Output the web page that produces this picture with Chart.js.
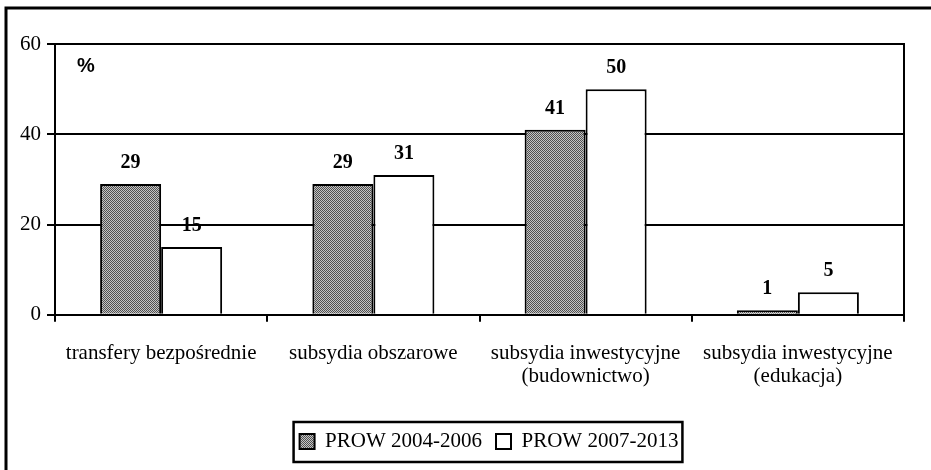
<!DOCTYPE html>
<html>
<head>
<meta charset="utf-8">
<script src="https://cdn.jsdelivr.net/npm/chart.js@4"></script>
<style>
  html, body { margin: 0; padding: 0; background: #fff; }
  #wrap { width: 931px; height: 470px; position: relative; }
</style>
</head>
<body>
<div id="wrap"><canvas id="chartCanvas"></canvas></div>
<script>
var categories = [
    "transfery bezpośrednie",
    "subsydia obszarowe",
    ["subsydia inwestycyjne", "(budownictwo)"],
    ["subsydia inwestycyjne", "(edukacja)"]
];
var seriesNames = ["PROW 2004-2006", "PROW 2007-2013"];
var prow2004 = [29, 29, 41, 1];
var prow2007 = [15, 31, 50, 5];
var yTicks = [0, 20, 40, 60];

// szary "kropkowany" wzór jak w oryginale
function makePattern() {
    var c = document.createElement("canvas");
    c.width = 2; c.height = 2;
    var g = c.getContext("2d");
    g.fillStyle = "#c4c4c4"; g.fillRect(0, 0, 2, 2);
    g.fillStyle = "#505050"; g.fillRect(0, 0, 1, 1); g.fillRect(1, 1, 1, 1);
    return g.createPattern(c, "repeat");
}
var grayFill = makePattern();
var serif = "'Liberation Serif', 'Times New Roman', serif";
var legendShift = 30;

var extras = {
    id: "extras",
    afterLayout: function (chart) {
        // legenda w oryginale jest przesunięta w prawo
        var lg = chart.legend;
        lg.left += legendShift;
        lg.right += legendShift;
        lg.legendHitBoxes.forEach(function (h) { h.left += legendShift; });
    },
    afterDatasetsDraw: function (chart) {
        var ctx = chart.ctx;
        ctx.save();
        ctx.fillStyle = "#000";
        ctx.font = "bold 20px " + serif;
        ctx.textAlign = "center";
        ctx.textBaseline = "bottom";
        chart.data.datasets.forEach(function (ds, i) {
            chart.getDatasetMeta(i).data.forEach(function (bar, j) {
                ctx.fillText(ds.data[j], bar.x, bar.y - 11);
            });
        });
        var a = chart.chartArea;
        ctx.font = "bold 20px 'Liberation Sans', Arial, sans-serif";
        ctx.textAlign = "left";
        ctx.textBaseline = "middle";
        ctx.fillText("%", a.left + 22, a.top + 22);
        // prawa krawędź obszaru wykresu
        ctx.strokeStyle = "#000";
        ctx.lineWidth = 2;
        ctx.beginPath();
        ctx.moveTo(a.right, a.top - 1);
        ctx.lineTo(a.right, a.bottom + 6);
        ctx.stroke();
        ctx.restore();
    },
    afterDraw: function (chart) {
        var ctx = chart.ctx;
        ctx.save();
        ctx.strokeStyle = "#000";
        ctx.lineWidth = 3;
        ctx.beginPath();
        ctx.moveTo(6, 470);
        ctx.lineTo(6, 8);
        ctx.lineTo(931, 8);
        ctx.stroke();
        // ramka legendy
        var boxes = chart.legend.legendHitBoxes;
        if (boxes && boxes.length) {
            var l = Infinity, r = -Infinity, t = Infinity, b = -Infinity;
            boxes.forEach(function (h) {
                l = Math.min(l, h.left); r = Math.max(r, h.left + h.width);
                t = Math.min(t, h.top); b = Math.max(b, h.top + h.height);
            });
            ctx.lineWidth = 2.5;
            ctx.strokeRect(l - 6, t - 9, r - l + 10, b - t + 19);
        }
        ctx.restore();
    }
};

new Chart(document.getElementById("chartCanvas").getContext("2d"), {
    type: "bar",
    data: {
        labels: categories,
        datasets: [{
            label: seriesNames[0],
            data: prow2004,
            backgroundColor: grayFill,
            borderColor: "#000",
            borderWidth: 2
        }, {
            label: seriesNames[1],
            data: prow2007,
            backgroundColor: "#fff",
            borderColor: "#000",
            borderWidth: 2
        }]
    },
    options: {
        responsive: true,
        maintainAspectRatio: false,
        animation: false,
        datasets: { bar: { categoryPercentage: 0.575, barPercentage: 1 } },
        layout: { padding: { left: 14, right: 27, top: 44, bottom: 8 } },
        plugins: {
            tooltip: { enabled: false },
            legend: {
                position: "bottom",
                labels: {
                    color: "#000",
                    font: { family: serif, size: 21 },
                    boxWidth: 15,
                    boxHeight: 15,
                    padding: 14,
                    useBorderRadius: false
                }
            }
        },
        scales: {
            x: {
                afterFit: function (axis) { axis.height += 9; },
                grid: {
                    color: function (c) { return "rgba(0,0,0,0)"; },
                    tickColor: "#000",
                    tickLength: 7,
                    lineWidth: 2,
                    offset: true
                },
                border: { color: "#000", width: 2 },
                ticks: { color: "#000", font: { family: serif, size: 21, lineHeight: 1.1 }, padding: 20 }
            },
            y: {
                min: 0,
                max: 60,
                afterBuildTicks: function (axis) {
                    axis.ticks = yTicks.map(function (v) { return { value: v }; });
                },
                grid: { color: "#000", lineWidth: 2, tickLength: 8 },
                border: { color: "#000", width: 2 },
                ticks: { color: "#000", font: { family: serif, size: 21 }, padding: 6 }
            }
        }
    },
    plugins: [extras]
});
</script>
</body>
</html>
